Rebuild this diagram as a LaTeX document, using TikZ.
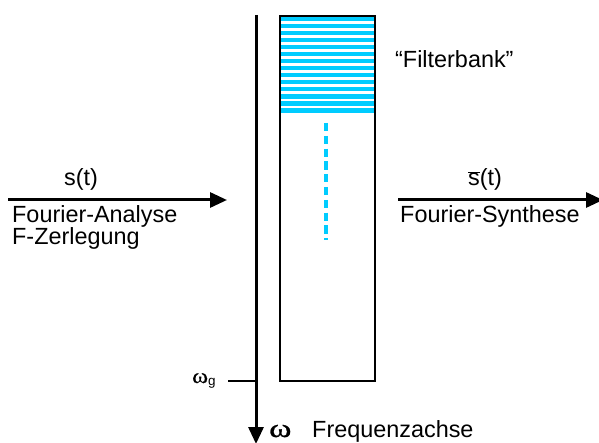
\documentclass[tikz,border=0pt]{standalone}
\usepackage{fontspec}
\setmainfont{Liberation Sans}
\newfontfamily\greekserif[FakeBold=0.8]{Liberation Serif}
\usetikzlibrary{arrows.meta}
\definecolor{filtercyan}{HTML}{00CCFF}
\begin{document}
\begin{tikzpicture}[x=1pt,y=-1pt,
  lbl/.style={inner sep=0pt, anchor=base west, font=\fontsize{23.4}{28}\selectfont},
  clbl/.style={lbl, anchor=base},
  flow/.style={line width=3pt, -{Triangle[length=17pt,width=15pt]}},
  stripe/.style={fill=filtercyan},
  bankbox/.style={draw, line width=2.2pt, inner sep=0pt, anchor=north west,
                  minimum width=95pt, minimum height=365pt}]
\useasboundingbox (0,0) rectangle (599,443);

% filter bank: cyan bands on top, dashed continuation below
\foreach \i in {0,...,13}
  \fill[stripe] (279,{16.9+7.02*\i}) rectangle (374,{21.3+7.02*\i});
\coordinate (dtop) at (326,123);
\coordinate (dbot) at (326,240);
\draw[filtercyan, line width=3.7pt, dash pattern=on 8.3pt off 4.5pt] (dtop) -- (dbot);
\node[bankbox] (bank) at (279,15) {};

% frequency axis with cut-off mark
\coordinate (axtop) at (256,15);
\coordinate (axend) at (256,444);
\draw[flow] (axtop) -- (axend);
\coordinate (wg) at (228,381);
\coordinate (wgaxis) at (256,381);
\draw[line width=2pt] (wg) -- (wgaxis);
\node[inner sep=0pt, anchor=base west] (wglbl) at (192,383)
  {\scalebox{1.15}[1]{\fontsize{21}{24}\greekserif ω}\raisebox{-2pt}{\fontsize{13.5}{16}\selectfont g}};
\node[inner sep=0pt, anchor=base west] (omega) at (269,437)
  {\scalebox{1.3}[1]{\fontsize{26}{30}\greekserif ω}};
\node[lbl] (faxis) at (312,437) {Frequenzachse};

% analysis side
\coordinate (ain) at (8,200);
\coordinate (aout) at (227,200);
\draw[flow] (ain) -- (aout);
\node[clbl] (sig) at (81,186) {s(t)};
\node[lbl] (fana) at (12,223) {Fourier-Analyse};
\node[lbl] (fzer) at (12,245) {F-Zerlegung};

% synthesis side
\coordinate (sin) at (398,200);
\coordinate (sout) at (603,200);
\draw[flow] (sin) -- (sout);
\node[clbl] (sigbar) at (485,186) {$\overline{\mbox{s}}$(t)};
\node[lbl] (fsyn) at (400,223) {Fourier-Synthese};

\node[lbl] (fbank) at (395,68) {“Filterbank”};
\end{tikzpicture}
\end{document}
